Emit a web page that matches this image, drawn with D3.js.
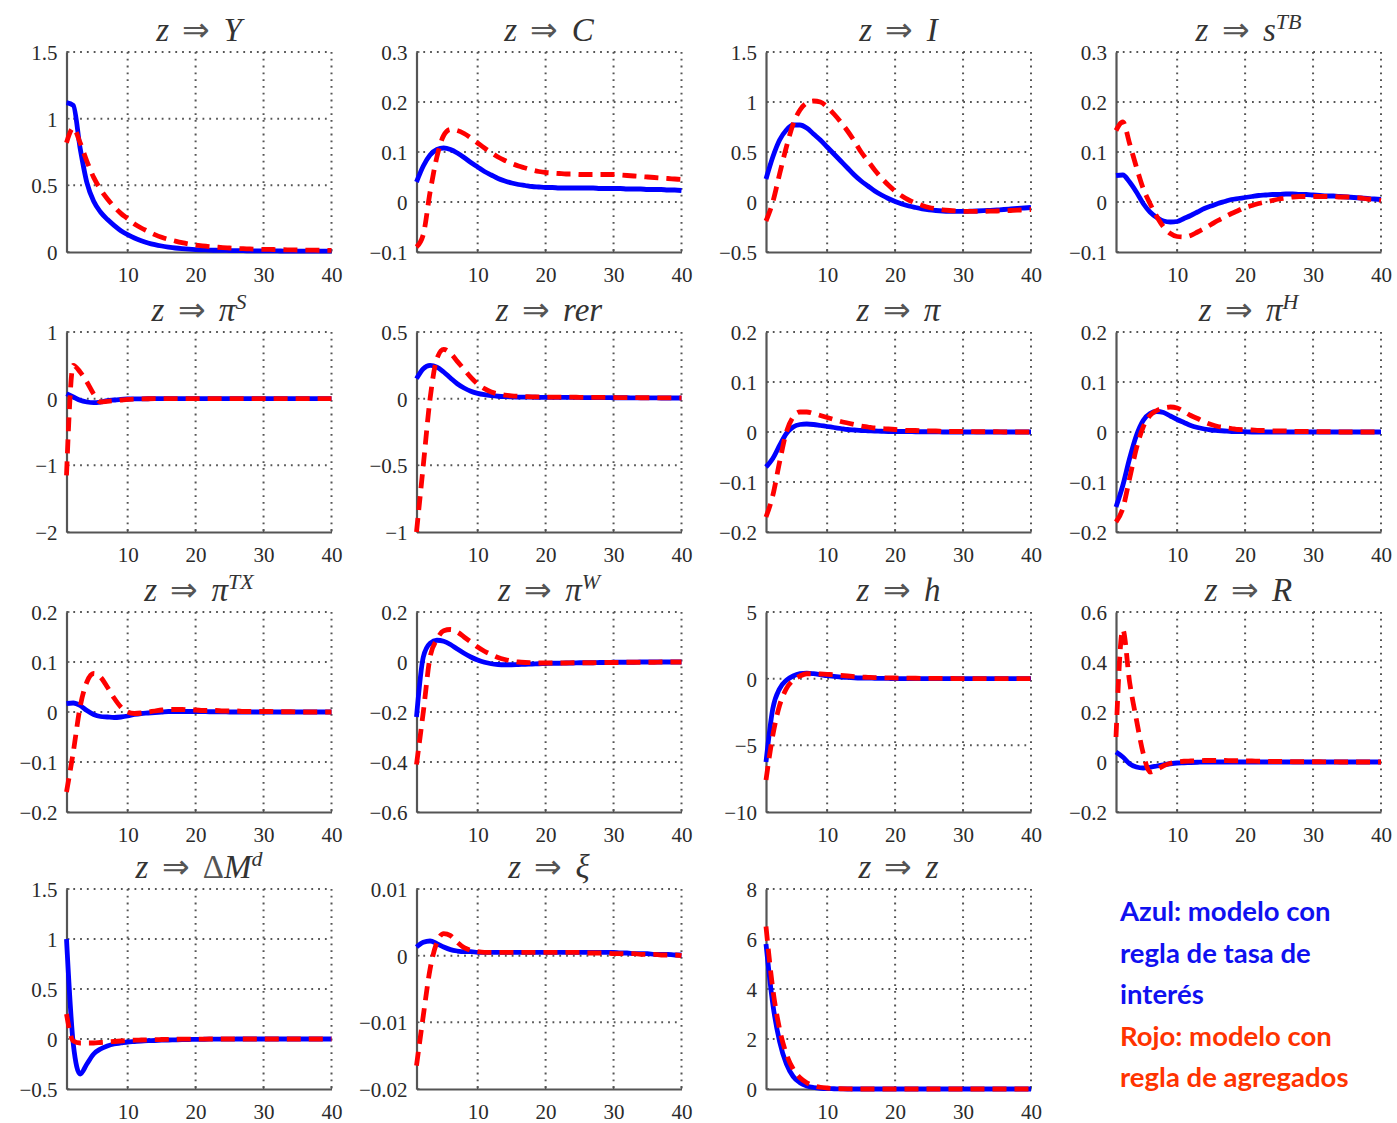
<!DOCTYPE html>
<html>
<head>
<meta charset="utf-8">
<script src="https://cdn.jsdelivr.net/npm/d3@7"></script>
<style>
  body { margin: 0; background: #fff; }
</style>
</head>
<body>
<div id="chart"></div>
<script>
// periods 1..40 on every x axis
var periods = d3.range(1, 41);
var xTicks = [10, 20, 30, 40];

// z => Y
var outputBlue = [1.12,1.10,0.78,0.52,0.38,0.30,0.245,0.20,0.16,0.13,0.105,0.085,0.068,0.055,0.045,0.037,0.030,0.025,0.021,0.018,0.016,0.014,0.013,0.012,0.011,0.010,0.010,0.009,0.009,0.008,0.008,0.008,0.007,0.007,0.007,0.007,0.006,0.006,0.006,0.006];
var outputRed = [0.82,0.93,0.82,0.68,0.56,0.47,0.40,0.34,0.29,0.25,0.21,0.18,0.155,0.13,0.11,0.095,0.082,0.07,0.06,0.052,0.046,0.041,0.037,0.033,0.030,0.027,0.025,0.023,0.021,0.020,0.019,0.018,0.017,0.016,0.015,0.014,0.014,0.013,0.013,0.012];
var outputTicks = [0, 0.5, 1, 1.5];

// z => C
var consBlue = [0.04,0.072,0.094,0.105,0.108,0.105,0.098,0.089,0.079,0.07,0.061,0.054,0.047,0.042,0.038,0.035,0.033,0.031,0.030,0.029,0.029,0.028,0.028,0.028,0.028,0.028,0.028,0.027,0.027,0.027,0.027,0.026,0.026,0.026,0.025,0.025,0.025,0.024,0.024,0.023];
var consRed = [-0.09,-0.065,0.02,0.09,0.133,0.145,0.143,0.137,0.128,0.118,0.108,0.099,0.09,0.083,0.077,0.072,0.068,0.064,0.061,0.059,0.058,0.057,0.056,0.056,0.055,0.055,0.055,0.055,0.055,0.055,0.054,0.053,0.052,0.051,0.050,0.049,0.048,0.047,0.046,0.045];
var consTicks = [-0.1, 0, 0.1, 0.2, 0.3];

// z => I
var invBlue = [0.23,0.45,0.62,0.72,0.77,0.77,0.74,0.68,0.62,0.55,0.48,0.41,0.34,0.27,0.21,0.16,0.11,0.07,0.035,0.005,-0.02,-0.04,-0.055,-0.068,-0.078,-0.085,-0.09,-0.093,-0.094,-0.094,-0.092,-0.09,-0.087,-0.083,-0.079,-0.075,-0.07,-0.065,-0.06,-0.055];
var invRed = [-0.19,0.0,0.28,0.55,0.78,0.92,0.99,1.01,1.0,0.95,0.88,0.8,0.71,0.61,0.5,0.41,0.32,0.24,0.17,0.11,0.06,0.02,-0.01,-0.035,-0.055,-0.068,-0.078,-0.085,-0.09,-0.093,-0.094,-0.094,-0.093,-0.092,-0.09,-0.088,-0.085,-0.082,-0.078,-0.075];
var invTicks = [-0.5, 0, 0.5, 1, 1.5];

// z => s^TB
var tbBlue = [0.053,0.054,0.04,0.02,-0.003,-0.02,-0.031,-0.038,-0.04,-0.039,-0.033,-0.027,-0.02,-0.013,-0.008,-0.003,0.001,0.005,0.007,0.009,0.011,0.013,0.014,0.015,0.015,0.016,0.016,0.015,0.015,0.014,0.013,0.012,0.012,0.011,0.010,0.009,0.008,0.007,0.006,0.005];
var tbRed = [0.143,0.16,0.117,0.07,0.027,-0.003,-0.029,-0.05,-0.063,-0.069,-0.07,-0.067,-0.06,-0.053,-0.045,-0.037,-0.03,-0.023,-0.017,-0.011,-0.007,-0.003,0.0,0.003,0.006,0.008,0.010,0.011,0.011,0.011,0.011,0.011,0.011,0.010,0.010,0.009,0.008,0.006,0.005,0.003];
var tbTicks = [-0.1, 0, 0.1, 0.2, 0.3];

// z => pi^S
var piSBlue = [0.075,0.025,-0.025,-0.05,-0.06,-0.05,-0.03,-0.02,-0.01,-0.005,-0.003,-0.002,-0.001,0,0,0,0,0,0,0,0,0,0,0,0,0,0,0,0,0,0,0,0,0,0,0,0,0,0,0];
var piSRed = [-1.15,0.5,0.4,0.25,0.07,-0.05,-0.04,-0.03,-0.02,-0.01,-0.005,-0.003,-0.001,0,0,0,0,0,0,0,0,0,0,0,0,0,0,0,0,0,0,0,0,0,0,0,0,0,0,0];
var piSTicks = [-2, -1, 0, 1];

// z => rer
var rerBlue = [0.15,0.225,0.25,0.237,0.2,0.155,0.112,0.08,0.056,0.04,0.03,0.023,0.018,0.015,0.013,0.012,0.011,0.011,0.010,0.010,0.010,0.010,0.009,0.009,0.009,0.008,0.008,0.008,0.008,0.007,0.007,0.007,0.006,0.006,0.006,0.006,0.005,0.005,0.005,0.005];
var rerRed = [-1.0,-0.5,0.0,0.3,0.37,0.34,0.28,0.22,0.16,0.11,0.075,0.05,0.036,0.027,0.021,0.018,0.016,0.014,0.013,0.012,0.012,0.011,0.011,0.011,0.010,0.010,0.010,0.009,0.009,0.009,0.008,0.008,0.008,0.007,0.007,0.007,0.006,0.006,0.006,0.005];
var rerTicks = [-1, -0.5, 0, 0.5];

// z => pi
var piBlue = [-0.07,-0.053,-0.027,-0.003,0.01,0.015,0.016,0.015,0.013,0.011,0.009,0.007,0.005,0.004,0.003,0.0025,0.002,0.0015,0.001,0.001,0.001,0.001,0.0005,0.0005,0.0005,0.0005,0,0,0,0,0,0,0,0,0,0,0,0,0,0];
var piRed = [-0.17,-0.127,-0.06,0.0,0.03,0.04,0.04,0.037,0.033,0.029,0.025,0.021,0.018,0.015,0.012,0.010,0.008,0.007,0.006,0.005,0.004,0.003,0.003,0.002,0.002,0.002,0.001,0.001,0.001,0.001,0.001,0.0005,0.0005,0.0005,0.0005,0,0,0,0,0];
var piTicks = [-0.2, -0.1, 0, 0.1, 0.2];

// z => pi^H
var piHBlue = [-0.15,-0.107,-0.053,-0.007,0.023,0.037,0.041,0.039,0.032,0.025,0.019,0.013,0.009,0.006,0.004,0.003,0.002,0.001,0.001,0.0005,0,0,0,0,0,0,0,0,0,0,0,0,0,0,0,0,0,0,0,0];
var piHRed = [-0.18,-0.153,-0.093,-0.033,0.01,0.033,0.043,0.048,0.05,0.048,0.041,0.033,0.027,0.02,0.015,0.011,0.009,0.007,0.005,0.0045,0.004,0.003,0.003,0.002,0.002,0.002,0.001,0.001,0.001,0.001,0.0005,0.0005,0.0005,0,0,0,0,0,0,0];
var piHTicks = [-0.2, -0.1, 0, 0.1, 0.2];

// z => pi^TX
var piTXBlue = [0.017,0.018,0.013,0.003,-0.005,-0.009,-0.01,-0.011,-0.01,-0.008,-0.005,-0.003,-0.002,-0.001,0,0.001,0.001,0.001,0.001,0.001,0.001,0.0005,0.0005,0.0005,0,0,0,0,0,0,0,0,0,0,0,0,0,0,0,0];
var piTXRed = [-0.16,-0.08,0.01,0.06,0.077,0.07,0.05,0.028,0.01,0.0,-0.003,-0.002,0.0,0.002,0.004,0.005,0.005,0.005,0.004,0.004,0.003,0.003,0.003,0.002,0.002,0.002,0.001,0.001,0.001,0.001,0.001,0.0005,0.0005,0.0005,0,0,0,0,0,0];
var piTXTicks = [-0.2, -0.1, 0, 0.1, 0.2];

// z => pi^W
var piWBlue = [-0.22,0.02,0.075,0.087,0.083,0.07,0.052,0.035,0.02,0.008,-0.001,-0.007,-0.01,-0.011,-0.011,-0.01,-0.009,-0.008,-0.007,-0.006,-0.005,-0.005,-0.004,-0.004,-0.003,-0.003,-0.003,-0.002,-0.002,-0.001,-0.001,-0.001,-0.001,0,0,0,0,0,0,0];
var piWRed = [-0.41,-0.2,0.02,0.09,0.125,0.13,0.12,0.1,0.08,0.06,0.043,0.03,0.018,0.01,0.004,0.0,-0.002,-0.003,-0.004,-0.004,-0.004,-0.004,-0.004,-0.003,-0.003,-0.003,-0.003,-0.002,-0.002,-0.002,-0.002,-0.001,-0.001,-0.001,-0.001,-0.001,0,0,0,0];
var piWTicks = [-0.6, -0.4, -0.2, 0, 0.2];

// z => h
var hoursBlue = [-6.25,-2.25,-0.75,-0.125,0.2,0.375,0.42,0.375,0.3,0.22,0.17,0.12,0.1,0.07,0.05,0.04,0.03,0.02,0.015,0.01,0.01,0.005,0.005,0,0,0,0,0,0,0,0,0,0,0,0,0,0,0,0,0];
var hoursRed = [-7.6,-4.25,-2.0,-0.75,-0.12,0.2,0.37,0.37,0.35,0.32,0.3,0.25,0.2,0.15,0.12,0.1,0.08,0.07,0.06,0.05,0.04,0.035,0.03,0.025,0.02,0.02,0.015,0.015,0.01,0.01,0.01,0.005,0.005,0.005,0,0,0,0,0,0];
var hoursTicks = [-10, -5, 0, 5];

// z => R
var rateBlue = [0.04,0.02,-0.007,-0.02,-0.024,-0.021,-0.016,-0.011,-0.007,-0.004,-0.003,-0.002,-0.001,0,0,0,0,0,0,0,0,0,0,0,0,0,0,0,0,0,0,0,0,0,0,0,0,0,0,0];
var rateRed = [0.1,0.53,0.32,0.17,0.035,-0.04,-0.03,-0.015,-0.005,0.0,0.003,0.004,0.005,0.006,0.006,0.006,0.006,0.005,0.005,0.004,0.004,0.003,0.003,0.002,0.002,0.002,0.001,0.001,0.001,0.001,0.001,0.0005,0.0005,0,0,0,0,0,0,0];
var rateTicks = [-0.2, 0, 0.2, 0.4, 0.6];

// z => Delta M^d
var moneyBlue = [1.0,-0.05,-0.35,-0.25,-0.15,-0.1,-0.07,-0.05,-0.04,-0.03,-0.025,-0.02,-0.017,-0.015,-0.012,-0.01,-0.008,-0.006,-0.005,-0.004,-0.003,-0.002,-0.002,-0.001,-0.001,0,0,0,0,0,0,0,0,0,0,0,0,0,0,0];
var moneyRed = [0.25,-0.02,-0.04,-0.04,-0.04,-0.035,-0.03,-0.025,-0.02,-0.015,-0.012,-0.01,-0.008,-0.006,-0.005,-0.004,-0.003,-0.002,-0.002,-0.001,-0.001,0,0,0,0,0,0,0,0,0,0,0,0,0,0,0,0,0,0,0];
var moneyTicks = [-0.5, 0, 0.5, 1, 1.5];

// z => xi
var xiBlue = [0.0013,0.002,0.0022,0.0018,0.0013,0.0009,0.0007,0.0006,0.0006,0.0005,0.0005,0.0005,0.0005,0.0005,0.0005,0.0005,0.0005,0.0005,0.0005,0.0005,0.0005,0.0005,0.0005,0.0005,0.0005,0.0005,0.0005,0.0005,0.0005,0.0005,0.0004,0.0004,0.0003,0.0003,0.0003,0.0002,0.0002,0.0002,0.0001,0.0001];
var xiRed = [-0.0165,-0.009,-0.002,0.002,0.0033,0.003,0.002,0.0012,0.0008,0.0006,0.0005,0.0005,0.0005,0.0005,0.0005,0.0005,0.0005,0.0005,0.0005,0.0005,0.0005,0.0005,0.0005,0.0005,0.0005,0.0004,0.0004,0.0004,0.0004,0.0003,0.0003,0.0003,0.0003,0.0002,0.0002,0.0002,0.0001,0.0001,0.0001,0.0];
var xiTicks = [-0.02, -0.01, 0, 0.01];

// z => z
var shockBlue = [5.8,3.4,1.9,1.0,0.5,0.25,0.12,0.06,0.03,0.015,0.01,0.005,0,0,0,0,0,0,0,0,0,0,0,0,0,0,0,0,0,0,0,0,0,0,0,0,0,0,0,0];
var shockRed = [6.5,4.0,2.4,1.4,0.8,0.45,0.25,0.13,0.07,0.04,0.02,0.01,0.005,0,0,0,0,0,0,0,0,0,0,0,0,0,0,0,0,0,0,0,0,0,0,0,0,0,0,0];
var shockTicks = [0, 2, 4, 6, 8];

var legendLines = [
  {text: 'Azul: modelo con', series: 'blue'},
  {text: 'regla de tasa de', series: 'blue'},
  {text: 'interés', series: 'blue'},
  {text: 'Rojo: modelo con', series: 'red'},
  {text: 'regla de agregados', series: 'red'}
];

var panels = [
  {pre: '', v: 'Y', sup: '', blue: outputBlue, red: outputRed, ticks: outputTicks},
  {pre: '', v: 'C', sup: '', blue: consBlue, red: consRed, ticks: consTicks},
  {pre: '', v: 'I', sup: '', blue: invBlue, red: invRed, ticks: invTicks},
  {pre: '', v: 's', sup: 'TB', blue: tbBlue, red: tbRed, ticks: tbTicks},
  {pre: '', v: 'π', sup: 'S', blue: piSBlue, red: piSRed, ticks: piSTicks},
  {pre: '', v: 'rer', sup: '', blue: rerBlue, red: rerRed, ticks: rerTicks},
  {pre: '', v: 'π', sup: '', blue: piBlue, red: piRed, ticks: piTicks},
  {pre: '', v: 'π', sup: 'H', blue: piHBlue, red: piHRed, ticks: piHTicks},
  {pre: '', v: 'π', sup: 'TX', blue: piTXBlue, red: piTXRed, ticks: piTXTicks},
  {pre: '', v: 'π', sup: 'W', blue: piWBlue, red: piWRed, ticks: piWTicks},
  {pre: '', v: 'h', sup: '', blue: hoursBlue, red: hoursRed, ticks: hoursTicks},
  {pre: '', v: 'R', sup: '', blue: rateBlue, red: rateRed, ticks: rateTicks},
  {pre: 'Δ', v: 'M', sup: 'd', blue: moneyBlue, red: moneyRed, ticks: moneyTicks},
  {pre: '', v: 'ξ', sup: '', blue: xiBlue, red: xiRed, ticks: xiTicks},
  {pre: '', v: 'z', sup: '', blue: shockBlue, red: shockRed, ticks: shockTicks}
];

var width = 1397, height = 1123;
var colLeft = [66.5, 416.5, 766, 1116];
var rowTop = [52, 332, 612, 889];
var plotW = 265, plotH = 200;
var blueColor = '#0000ff', redColor = '#ff0000';
var serif = '"Liberation Serif", "Times New Roman", Times, serif';

var svg = d3.select('#chart').append('svg')
  .attr('width', width)
  .attr('height', height);

var fmt = function(d) {
  return d < 0 ? '\u2212' + String(Math.abs(d)) : String(d);
};

panels.forEach(function(p, idx) {
  var col = idx % 4, row = Math.floor(idx / 4);
  var g = svg.append('g').attr('transform', 'translate(' + colLeft[col] + ',' + rowTop[row] + ')');

  var x = d3.scaleLinear().domain([1, 40]).range([0, plotW]);
  var y = d3.scaleLinear().domain([p.ticks[0], p.ticks[p.ticks.length - 1]]).range([plotH, 0]);

  // dotted grid
  var grid = g.append('g');
  grid.selectAll('line.vx').data(xTicks).enter().append('line')
    .attr('x1', function(d) { return x(d); }).attr('x2', function(d) { return x(d); })
    .attr('y1', 0).attr('y2', plotH);
  grid.selectAll('line.hy').data(p.ticks.slice(1)).enter().append('line')
    .attr('x1', 0).attr('x2', plotW)
    .attr('y1', function(d) { return y(d); }).attr('y2', function(d) { return y(d); });
  grid.selectAll('line')
    .attr('stroke', '#555')
    .attr('stroke-width', 2)
    .attr('stroke-dasharray', '1.8,5');

  // axes
  var xAxis = g.append('g').attr('transform', 'translate(0,' + plotH + ')')
    .call(d3.axisBottom(x).tickValues(xTicks).tickSize(0).tickPadding(0).tickFormat(fmt))
    .attr('font-family', serif)
    .attr('font-size', 21);
  xAxis.select('.domain').attr('stroke', '#555').attr('stroke-width', 2.2);
  xAxis.selectAll('text').attr('fill', '#2a2a2a').attr('y', 0).attr('dy', 30);

  var yAxis = g.append('g')
    .call(d3.axisLeft(y).tickValues(p.ticks).tickSize(0).tickPadding(9).tickFormat(fmt))
    .attr('font-family', serif)
    .attr('font-size', 21);
  yAxis.select('.domain').attr('stroke', '#555').attr('stroke-width', 2.2);
  yAxis.selectAll('text').attr('fill', '#2a2a2a').attr('dy', '0.35em');

  // small inward tick marks
  g.selectAll('line.xtick').data(xTicks).enter().append('line')
    .attr('x1', function(d) { return x(d); }).attr('x2', function(d) { return x(d); })
    .attr('y1', plotH).attr('y2', plotH - 3)
    .attr('stroke', '#555').attr('stroke-width', 1.5);
  g.selectAll('line.ytick').data(p.ticks).enter().append('line')
    .attr('x1', 0).attr('x2', 3)
    .attr('y1', function(d) { return y(d); }).attr('y2', function(d) { return y(d); })
    .attr('stroke', '#555').attr('stroke-width', 1.5);

  var line = d3.line()
    .x(function(d, i) { return x(periods[i]); })
    .y(function(d) { return y(d); })
    .curve(d3.curveMonotoneX);

  g.append('path').datum(p.blue)
    .attr('d', line)
    .attr('fill', 'none')
    .attr('stroke', blueColor)
    .attr('stroke-width', 4.8)
    .attr('stroke-linejoin', 'round');

  g.append('path').datum(p.red)
    .attr('d', line)
    .attr('fill', 'none')
    .attr('stroke', redColor)
    .attr('stroke-width', 4.8)
    .attr('stroke-dasharray', '14,8');

  // title
  var t = g.append('text')
    .attr('x', plotW / 2)
    .attr('y', -11)
    .attr('text-anchor', 'middle')
    .attr('font-family', serif)
    .attr('font-size', 33)
    .attr('fill', '#333');
  t.append('tspan').attr('font-style', 'italic').text('z');
  t.append('tspan').attr('fill', '#555').text('\u2009\u2009\u21D2\u2009\u2009' + p.pre);
  t.append('tspan').attr('font-style', 'italic').text(p.v);
  if (p.sup) {
    t.append('tspan').attr('font-style', 'italic').attr('font-size', 22).attr('dy', -12).text(p.sup);
  }
});

// legend text in the empty last cell
svg.append('g').selectAll('text').data(legendLines).enter().append('text')
  .attr('x', 1120)
  .attr('y', function(d, i) { return 921 + i * 41.5; })
  .attr('font-family', 'Lato, "Open Sans", sans-serif')
  .attr('font-size', 27.5)
  .attr('font-weight', 'bold')
  .attr('fill', function(d) { return d.series === 'blue' ? '#1010f0' : '#ff3300'; })
  .text(function(d) { return d.text; });
</script>
</body>
</html>
